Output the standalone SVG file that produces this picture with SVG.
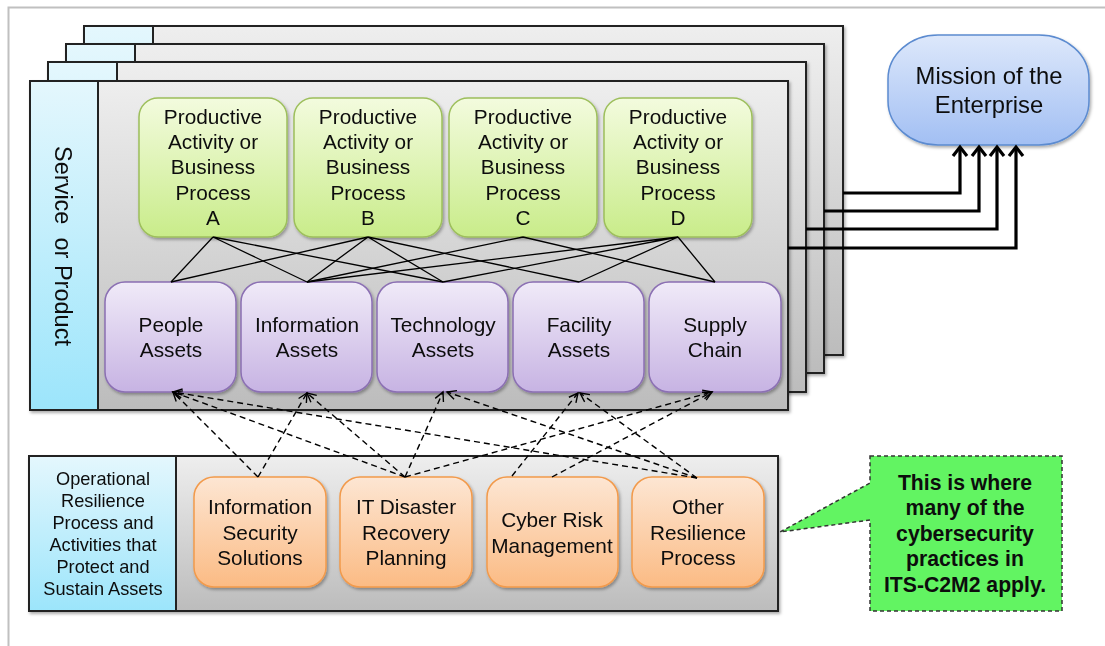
<svg xmlns="http://www.w3.org/2000/svg" width="1105" height="646" viewBox="0 0 1105 646">
  <defs>
    <linearGradient id="gCard" x1="0" y1="0" x2="0" y2="1">
      <stop offset="0" stop-color="#eeeeee"/>
      <stop offset="1" stop-color="#bcbcbc"/>
    </linearGradient>
    <linearGradient id="gSide" x1="0" y1="0" x2="0" y2="1">
      <stop offset="0" stop-color="#e4f7fd"/>
      <stop offset="1" stop-color="#9ce5fb"/>
    </linearGradient>
    <linearGradient id="gGreen" x1="0" y1="0" x2="0" y2="1">
      <stop offset="0" stop-color="#f3fbde"/>
      <stop offset="1" stop-color="#c9ec8a"/>
    </linearGradient>
    <linearGradient id="gPurple" x1="0" y1="0" x2="0" y2="1">
      <stop offset="0" stop-color="#f0eaf8"/>
      <stop offset="1" stop-color="#c7b3e3"/>
    </linearGradient>
    <linearGradient id="gOrange" x1="0" y1="0" x2="0" y2="1">
      <stop offset="0" stop-color="#fde6d3"/>
      <stop offset="1" stop-color="#fbbb84"/>
    </linearGradient>
    <linearGradient id="gMission" x1="0" y1="0" x2="0" y2="1">
      <stop offset="0" stop-color="#dde8fb"/>
      <stop offset="1" stop-color="#a2bff3"/>
    </linearGradient>
    <filter id="shadow" x="-10%" y="-10%" width="125%" height="125%">
      <feDropShadow dx="1.5" dy="2" stdDeviation="1.6" flood-color="#000" flood-opacity="0.32"/>
    </filter>
    <marker id="headBold" markerUnits="userSpaceOnUse" markerWidth="24" markerHeight="24" viewBox="-12 -12 24 24" refX="0" refY="0" orient="auto">
      <path d="M -9 -7 L 0 0 L -9 7" fill="none" stroke="#000" stroke-width="3.2"/>
    </marker>
    <marker id="headDash" markerUnits="userSpaceOnUse" markerWidth="20" markerHeight="20" viewBox="-10 -10 20 20" refX="0" refY="0" orient="auto">
      <path d="M -9 -4.5 L 0 0 L -9 4.5" fill="none" stroke="#000" stroke-width="1.4"/>
    </marker>
    <style>
      text { font-family: "Liberation Sans", Arial, sans-serif; fill: #0d0d0d; text-anchor: middle; }
      .card { fill: url(#gCard); stroke: #222; stroke-width: 2; }
      .side { fill: url(#gSide); stroke: #222; stroke-width: 2; }
      .green { fill: url(#gGreen); stroke: #9dbf5c; stroke-width: 1.5; }
      .purple { fill: url(#gPurple); stroke: #8b6fb3; stroke-width: 1.5; }
      .orange { fill: url(#gOrange); stroke: #f29a4b; stroke-width: 1.5; }
      .t20 { font-size: 20.8px; }
      .t17 { font-size: 18.2px; }
      .call { font-size: 21.2px; font-weight: bold; }
      .solid { stroke: #000; stroke-width: 1.3; fill: none; }
      .dash { stroke: #000; stroke-width: 1.4; fill: none; stroke-dasharray: 6 4; marker-end: url(#headDash); }
      .bold { stroke: #000; stroke-width: 3.2; fill: none; marker-end: url(#headBold); }
    </style>
  </defs>

  <rect width="1105" height="646" fill="#ffffff"/>
  <!-- page frame -->
  <rect x="8.5" y="7.5" width="1200" height="700" fill="none" stroke="#c0c0c0" stroke-width="2"/>

  <!-- stacked service cards, back to front -->
  <g id="card-4" filter="url(#shadow)">
    <rect class="card" x="84" y="26" width="759" height="329"/>
    <rect class="side" x="84" y="26" width="69" height="329"/>
  </g>
  <g id="card-3" filter="url(#shadow)">
    <rect class="card" x="66" y="44" width="758" height="329"/>
    <rect class="side" x="66" y="44" width="69" height="329"/>
  </g>
  <g id="card-2" filter="url(#shadow)">
    <rect class="card" x="48" y="62" width="758" height="330"/>
    <rect class="side" x="48" y="62" width="69" height="330"/>
  </g>
  <g id="card-1" filter="url(#shadow)">
    <rect class="card" x="30" y="81" width="758" height="329"/>
    <rect class="side" x="30" y="81" width="68" height="329"/>
    <text transform="translate(63 246) rotate(90)" y="8.5" font-size="23.5" xml:space="preserve">Service  or Product</text>
  </g>

  <!-- bottom panel: resilience processes -->
  <g id="resilience-panel" filter="url(#shadow)">
    <rect class="card" x="29" y="456" width="749" height="155"/>
    <rect class="side" x="29" y="456" width="147" height="155"/>
    <text class="t17" x="103" y="485">Operational</text>
    <text class="t17" x="103" y="507">Resilience</text>
    <text class="t17" x="103" y="529">Process and</text>
    <text class="t17" x="103" y="551">Activities that</text>
    <text class="t17" x="103" y="573">Protect and</text>
    <text class="t17" x="103" y="595">Sustain Assets</text>
  </g>

  <!-- productive activities -->
  <g id="process-a" filter="url(#shadow)">
    <rect class="green" x="139" y="98" width="148" height="139" rx="19"/>
    <text class="t20" x="213" y="124">Productive</text>
    <text class="t20" x="213" y="149">Activity or</text>
    <text class="t20" x="213" y="174">Business</text>
    <text class="t20" x="213" y="200">Process</text>
    <text class="t20" x="213" y="225">A</text>
  </g>
  <g id="process-b" filter="url(#shadow)">
    <rect class="green" x="294" y="98" width="148" height="139" rx="19"/>
    <text class="t20" x="368" y="124">Productive</text>
    <text class="t20" x="368" y="149">Activity or</text>
    <text class="t20" x="368" y="174">Business</text>
    <text class="t20" x="368" y="200">Process</text>
    <text class="t20" x="368" y="225">B</text>
  </g>
  <g id="process-c" filter="url(#shadow)">
    <rect class="green" x="449" y="98" width="148" height="139" rx="19"/>
    <text class="t20" x="523" y="124">Productive</text>
    <text class="t20" x="523" y="149">Activity or</text>
    <text class="t20" x="523" y="174">Business</text>
    <text class="t20" x="523" y="200">Process</text>
    <text class="t20" x="523" y="225">C</text>
  </g>
  <g id="process-d" filter="url(#shadow)">
    <rect class="green" x="604" y="98" width="148" height="139" rx="19"/>
    <text class="t20" x="678" y="124">Productive</text>
    <text class="t20" x="678" y="149">Activity or</text>
    <text class="t20" x="678" y="174">Business</text>
    <text class="t20" x="678" y="200">Process</text>
    <text class="t20" x="678" y="225">D</text>
  </g>

  <!-- assets -->
  <g id="asset-people" filter="url(#shadow)">
    <rect class="purple" x="105" y="282" width="131" height="110" rx="20"/>
    <text class="t20" x="171" y="332">People</text>
    <text class="t20" x="171" y="357">Assets</text>
  </g>
  <g id="asset-information" filter="url(#shadow)">
    <rect class="purple" x="241" y="282" width="131" height="110" rx="20"/>
    <text class="t20" x="307" y="332">Information</text>
    <text class="t20" x="307" y="357">Assets</text>
  </g>
  <g id="asset-technology" filter="url(#shadow)">
    <rect class="purple" x="377" y="282" width="131" height="110" rx="20"/>
    <text class="t20" x="443" y="332">Technology</text>
    <text class="t20" x="443" y="357">Assets</text>
  </g>
  <g id="asset-facility" filter="url(#shadow)">
    <rect class="purple" x="513" y="282" width="131" height="110" rx="20"/>
    <text class="t20" x="579" y="332">Facility</text>
    <text class="t20" x="579" y="357">Assets</text>
  </g>
  <g id="asset-supply" filter="url(#shadow)">
    <rect class="purple" x="649" y="282" width="132" height="110" rx="20"/>
    <text class="t20" x="715" y="332">Supply</text>
    <text class="t20" x="715" y="357">Chain</text>
  </g>

  <!-- resilience processes -->
  <g id="proc-infosec" filter="url(#shadow)">
    <rect class="orange" x="194" y="477" width="132" height="110" rx="20"/>
    <text class="t20" x="260" y="514">Information</text>
    <text class="t20" x="260" y="540">Security</text>
    <text class="t20" x="260" y="565">Solutions</text>
  </g>
  <g id="proc-itdr" filter="url(#shadow)">
    <rect class="orange" x="340" y="477" width="132" height="110" rx="20"/>
    <text class="t20" x="406" y="514">IT Disaster</text>
    <text class="t20" x="406" y="540">Recovery</text>
    <text class="t20" x="406" y="565">Planning</text>
  </g>
  <g id="proc-cyberrisk" filter="url(#shadow)">
    <rect class="orange" x="487" y="477" width="131" height="110" rx="20"/>
    <text class="t20" x="552" y="527">Cyber Risk</text>
    <text class="t20" x="552" y="553">Management</text>
  </g>
  <g id="proc-other" filter="url(#shadow)">
    <rect class="orange" x="632" y="477" width="132" height="110" rx="20"/>
    <text class="t20" x="698" y="514">Other</text>
    <text class="t20" x="698" y="540">Resilience</text>
    <text class="t20" x="698" y="565">Process</text>
  </g>

  <!-- mission -->
  <g id="mission" filter="url(#shadow)">
    <rect x="888" y="35" width="201" height="110" rx="50" ry="44" fill="url(#gMission)" stroke="#5b8bd0" stroke-width="1.5"/>
    <text x="989" y="84" font-size="23.8">Mission of the</text>
    <text x="989" y="113" font-size="23.8">Enterprise</text>
  </g>

  <!-- callout -->
  <g id="callout">
    <path d="M870,456 H1062 V611 H870 V520 L780,532 L870,483 Z" fill="#62f462" stroke="#333" stroke-width="1.5" stroke-dasharray="4 3"/>
    <text class="call" x="965" y="490">This is where</text>
    <text class="call" x="965" y="515">many of the</text>
    <text class="call" x="965" y="541">cybersecurity</text>
    <text class="call" x="965" y="566">practices in</text>
    <text class="call" x="965" y="592">ITS-C2M2 apply.</text>
  </g>

  <g id="connectors">
    <!-- processes to assets -->
    <path class="solid" d="M213,237 L171,282 M213,237 L307,282 M213,237 L443,282"/>
    <path class="solid" d="M368,237 L171,282 M368,237 L307,282 M368,237 L443,282 M368,237 L579,282"/>
    <path class="solid" d="M523,237 L307,282 M523,237 L715,282"/>
    <path class="solid" d="M678,237 L307,282 M678,237 L443,282 M678,237 L579,282 M678,237 L715,282"/>

    <!-- each service feeds the mission -->
    <path class="bold" d="M843,193 H960 V147"/>
    <path class="bold" d="M824,211 H979 V147"/>
    <path class="bold" d="M806,229 H997 V147"/>
    <path class="bold" d="M788,248 H1016 V147"/>

    <!-- resilience processes protecting assets -->
    <path class="dash" d="M258,477 L173,392"/>
    <path class="dash" d="M258,477 L307,393"/>
    <path class="dash" d="M405,477 L173,392"/>
    <path class="dash" d="M405,477 L307,393"/>
    <path class="dash" d="M405,477 L443,392"/>
    <path class="dash" d="M405,477 L712,392"/>
    <path class="dash" d="M512,476 L578,393"/>
    <path class="dash" d="M552,477 L712,392"/>
    <path class="dash" d="M697,478 L173,392"/>
    <path class="dash" d="M697,478 L447,392"/>
    <path class="dash" d="M697,478 L580,393"/>
  </g>
</svg>
